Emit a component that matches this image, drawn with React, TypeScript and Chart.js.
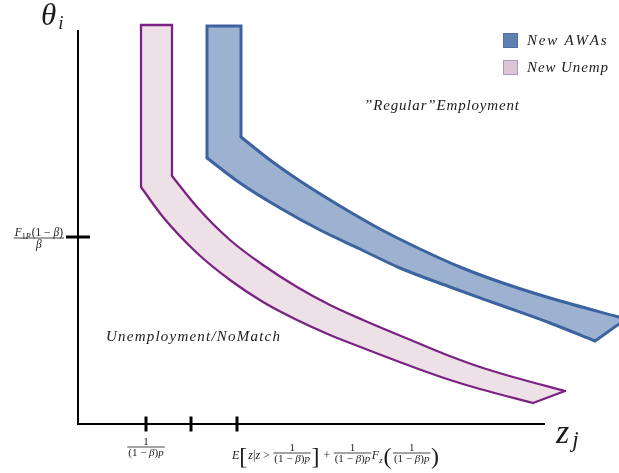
import React, { useEffect, useRef } from "react";
import { Chart, registerables } from "chart.js";

Chart.register(...registerables);

// ---- values (axis units, origin where the two axes meet) ----
const yAxisX = [0, 0];
const yAxisY = [0, 394];
const xAxisX = [-1, 467];
const xAxisY = [0, 0];

const xTickValues = [68, 113, 159];
const yTickValues = [187];

// New AWAs band: outer (left/lower) edge and inner (right/upper) edge, from the top down
const awaOuterX = [129, 129, 162, 202, 242, 282, 322, 372, 422, 472, 517];
const awaOuterY = [398, 266, 241, 216, 194, 175, 156, 137, 119, 101, 83];
const awaInnerX = [163, 163, 192, 222, 262, 302, 342, 382, 422, 472, 548];
const awaInnerY = [398, 287, 264, 243, 218, 195, 175, 157, 142, 126, 105];

// New Unemp band
const unempOuterX = [63, 63, 85, 119, 152, 185, 219, 252, 285, 335, 369, 402, 455];
const unempOuterY = [399, 237, 207, 171, 144, 122, 104, 89, 76, 57, 45, 35, 21];
const unempInnerX = [94, 94, 119, 152, 185, 219, 252, 285, 335, 369, 402, 435, 487];
const unempInnerY = [399, 248, 217, 184, 159, 137, 119, 104, 83, 69, 57, 47, 33];

const legendLabels = ["New AWAs", "New Unemp"];
const regionLabels = ["\u201dRegular\u201dEmployment", "Unemployment/NoMatch"];
const yAxisTitle = ["\u03b8", "i"];
const xAxisTitle = ["z", "j"];

type Tok = { t?: string; sub?: string; big?: string; frac?: [Tok[], Tok[]] };
const invP: [Tok[], Tok[]] = [[{ t: "1" }], [{ t: "(1 \u2212 \u03b2)p" }]];
const yTickLabel: [Tok[], Tok[]] = [[{ t: "F" }, { sub: "1P" }, { t: "(1 \u2212 \u03b2)" }], [{ t: "\u03b2" }]];
const xTickLabel3: Tok[] = [
  { t: "E" }, { big: "[" }, { t: "z|z > " }, { frac: invP }, { big: "]" }, { t: " + " },
  { frac: invP }, { t: "F" }, { sub: "z" }, { big: "(" }, { frac: invP }, { big: ")" },
];

// ---- styles ----
const SERIF = '"Liberation Serif", "DejaVu Serif", serif';
const font = (size: number, italic: boolean) => `${italic ? "italic " : ""}${size}px ${SERIF}`;
const TEXT = "#1b1b1b";
const AWA_FILL = "#9db2d1";
const AWA_LINE = "#3c62a0";
const UN_FILL = "#eee0e7";
const UN_LINE = "#7b2383";
const LEG_COLORS = [
  { fill: "#5f80b1", line: "#4d6fa6" },
  { fill: "#dcc6d6", line: "#a39cbc" },
];

function splitRuns(s: string): [string, boolean][] {
  const out: [string, boolean][] = [];
  for (const ch of s) {
    const it = /[A-Za-z\u0370-\u03FF]/.test(ch);
    if (out.length && out[out.length - 1][1] === it) out[out.length - 1][0] += ch;
    else out.push([ch, it]);
  }
  return out;
}
function textWidth(ctx: CanvasRenderingContext2D, s: string, size: number) {
  let w = 0;
  for (const [r, it] of splitRuns(s)) {
    ctx.font = font(size, it);
    w += ctx.measureText(r).width;
  }
  return w;
}
function drawText(ctx: CanvasRenderingContext2D, s: string, x: number, base: number, size: number) {
  let cx = x;
  for (const [r, it] of splitRuns(s)) {
    ctx.font = font(size, it);
    ctx.fillText(r, cx, base);
    cx += ctx.measureText(r).width;
  }
  return cx - x;
}
function tokWidth(ctx: CanvasRenderingContext2D, tok: Tok, size: number): number {
  if (tok.t !== undefined) return textWidth(ctx, tok.t, size);
  if (tok.sub !== undefined) return textWidth(ctx, tok.sub, size * 0.7) + 1;
  if (tok.big !== undefined) {
    ctx.font = font(size * 2, false);
    return ctx.measureText(tok.big).width + 1;
  }
  if (tok.frac)
    return Math.max(toksWidth(ctx, tok.frac[0], size * 0.92), toksWidth(ctx, tok.frac[1], size * 0.92)) + 3;
  return 0;
}
function toksWidth(ctx: CanvasRenderingContext2D, toks: Tok[], size: number) {
  return toks.reduce((a, t) => a + tokWidth(ctx, t, size), 0);
}
function drawToks(ctx: CanvasRenderingContext2D, toks: Tok[], x: number, base: number, size: number, barY: number) {
  let cx = x;
  for (const tok of toks) {
    const w = tokWidth(ctx, tok, size);
    if (tok.t !== undefined) drawText(ctx, tok.t, cx, base, size);
    else if (tok.sub !== undefined) drawText(ctx, tok.sub, cx, base + size * 0.3, size * 0.7);
    else if (tok.big !== undefined) {
      ctx.font = font(size * 2, false);
      ctx.fillText(tok.big, cx, base + size * 0.45);
    } else if (tok.frac) drawFrac(ctx, cx + w / 2, barY, tok.frac[0], tok.frac[1], size * 0.92);
    cx += w;
  }
  return cx - x;
}
function drawFrac(ctx: CanvasRenderingContext2D, cx: number, barY: number, num: Tok[], den: Tok[], size: number) {
  const wn = toksWidth(ctx, num, size);
  const wd = toksWidth(ctx, den, size);
  const w = Math.max(wn, wd) + 2;
  ctx.fillRect(cx - w / 2, barY - 0.4, w, 0.8);
  drawToks(ctx, num, cx - wn / 2, barY - 2.5, size, barY);
  drawToks(ctx, den, cx - wd / 2, barY + size * 0.85, size, barY);
}
function drawSpaced(ctx: CanvasRenderingContext2D, s: string, x: number, base: number, size: number, target: number) {
  ctx.font = font(size, true);
  const w = ctx.measureText(s).width;
  const n = [...s].length;
  const sp = n > 1 ? Math.max(0, (target - w) / (n - 1)) : 0;
  let cx = x;
  for (const ch of s) {
    ctx.fillText(ch, cx, base);
    cx += ctx.measureText(ch).width + sp;
  }
}

const annotations = {
  id: "annotations",
  afterDraw(chart: any) {
    const { ctx, scales, chartArea } = chart;
    const X = (v: number) => scales.x.getPixelForValue(v);
    const Y = (v: number) => scales.y.getPixelForValue(v);
    ctx.save();
    ctx.fillStyle = TEXT;
    ctx.textAlign = "left";
    ctx.textBaseline = "alphabetic";

    // axis titles
    ctx.font = font(31, true);
    ctx.fillText(yAxisTitle[0], X(yAxisX[0]) - 37, Y(yAxisY[1]) - 5);
    const tw = ctx.measureText(yAxisTitle[0]).width;
    ctx.font = font(19, true);
    ctx.fillText(yAxisTitle[1], X(yAxisX[0]) - 36 + tw + 1, Y(yAxisY[1]) - 1);

    ctx.font = font(34, true);
    ctx.fillText(xAxisTitle[0], X(xAxisX[1]) + 11, Y(0) + 19);
    const zw = ctx.measureText(xAxisTitle[0]).width;
    ctx.font = font(23, true);
    ctx.fillText(xAxisTitle[1], X(xAxisX[1]) + 11 + zw + 3, Y(0) + 23);

    // region labels
    drawSpaced(ctx, regionLabels[0], X(286), Y(319) + 5, 15, 155);
    drawSpaced(ctx, regionLabels[1], X(28), Y(88) + 5, 15, 174);

    // y tick label
    {
      const size = 11.5;
      const barY = Y(yTickValues[0]) + 1;
      const wn = toksWidth(ctx, yTickLabel[0], size);
      const cx = X(0) - 14 - (wn + 2) / 2;
      drawFrac(ctx, cx, barY, yTickLabel[0], yTickLabel[1], size);
    }
    // x tick labels
    drawFrac(ctx, X(xTickValues[0]), Y(0) + 23, invP[0], invP[1], 11);
    drawToks(ctx, xTickLabel3, X(xTickValues[2]) - 5, Y(0) + 35, 12, Y(0) + 29);

    // legend
    const lx = chartArea.right - 116;
    legendLabels.forEach((lab, i) => {
      const top = chartArea.top + 33 + i * 27;
      ctx.fillStyle = LEG_COLORS[i].fill;
      ctx.fillRect(lx, top, 15, 15);
      ctx.strokeStyle = LEG_COLORS[i].line;
      ctx.lineWidth = 1;
      ctx.strokeRect(lx + 0.5, top + 0.5, 14, 14);
      ctx.fillStyle = TEXT;
      drawSpaced(ctx, lab, lx + 24, top + 12, 15, i === 0 ? 78 : 81);
    });
    ctx.restore();
  },
};

const pts = (xs: number[], ys: number[]) => xs.map((x, i) => ({ x, y: ys[i] }));

function bandDatasets(ox: number[], oy: number[], ix: number[], iy: number[], fillColor: string, lineColor: string, width: number, label: string) {
  const outer = pts(ox, oy);
  const inner = pts(ix, iy);
  const polygon = outer.concat([...inner].reverse());
  polygon.push({ ...polygon[0] });
  const base = {
    showLine: true,
    pointRadius: 0,
    pointHoverRadius: 0,
    fill: false,
    borderColor: lineColor,
    borderWidth: width,
    borderJoinStyle: "miter",
  };
  return [
    { ...base, data: [outer[1], outer[0], inner[0], inner[1]], tension: 0 },
    { ...base, data: outer.slice(1), cubicInterpolationMode: "monotone", borderCapStyle: "round" },
    { ...base, data: inner.slice(1), cubicInterpolationMode: "monotone", borderCapStyle: "round" },
    { ...base, data: [outer[outer.length - 1], inner[inner.length - 1]], tension: 0, borderCapStyle: "round" },
    { ...base, label, data: polygon, tension: 0, borderWidth: 0, borderColor: "rgba(0,0,0,0)", fill: "shape", backgroundColor: fillColor },
  ];
}

export default function App() {
  const ref = useRef<HTMLCanvasElement>(null);
  useEffect(() => {
    const axis = (data: any[]) => ({
      data,
      showLine: true,
      borderColor: "#000",
      borderWidth: 2,
      pointRadius: 0,
      pointHoverRadius: 0,
      tension: 0,
      fill: false,
    });
    const chart = new Chart(ref.current!, {
      type: "scatter",
      data: {
        datasets: [
          {
            data: xTickValues.map((v) => ({ x: v, y: 0 })),
            pointStyle: "line",
            pointRotation: 90,
            pointRadius: 7.5,
            pointBorderWidth: 3,
            borderColor: "#000",
            backgroundColor: "#000",
            showLine: false,
          },
          {
            data: yTickValues.map((v) => ({ x: 0, y: v })),
            pointStyle: "line",
            pointRadius: 12,
            pointBorderWidth: 3,
            borderColor: "#000",
            backgroundColor: "#000",
            showLine: false,
          },
          axis(pts(yAxisX, yAxisY)),
          axis(pts(xAxisX, xAxisY)),
          ...bandDatasets(unempOuterX, unempOuterY, unempInnerX, unempInnerY, UN_FILL, UN_LINE, 2.3, legendLabels[1]),
          ...bandDatasets(awaOuterX, awaOuterY, awaInnerX, awaInnerY, AWA_FILL, AWA_LINE, 3, legendLabels[0]),
        ] as any,
      },
      options: {
        animation: false,
        responsive: false,
        devicePixelRatio: 1,
        events: [],
        layout: { padding: 0, autoPadding: false },
        scales: {
          x: { type: "linear", min: -78, max: 541, display: false },
          y: { type: "linear", min: -49, max: 424, display: false },
        },
        plugins: { legend: { display: false }, tooltip: { enabled: false } },
      } as any,
      plugins: [annotations],
    });
    return () => chart.destroy();
  }, []);
  return (
    <div style={{ position: "absolute", left: 0, top: 0, width: 619, height: 473, background: "#fff" }}>
      <canvas ref={ref} width={619} height={473} style={{ display: "block" }} />
    </div>
  );
}
